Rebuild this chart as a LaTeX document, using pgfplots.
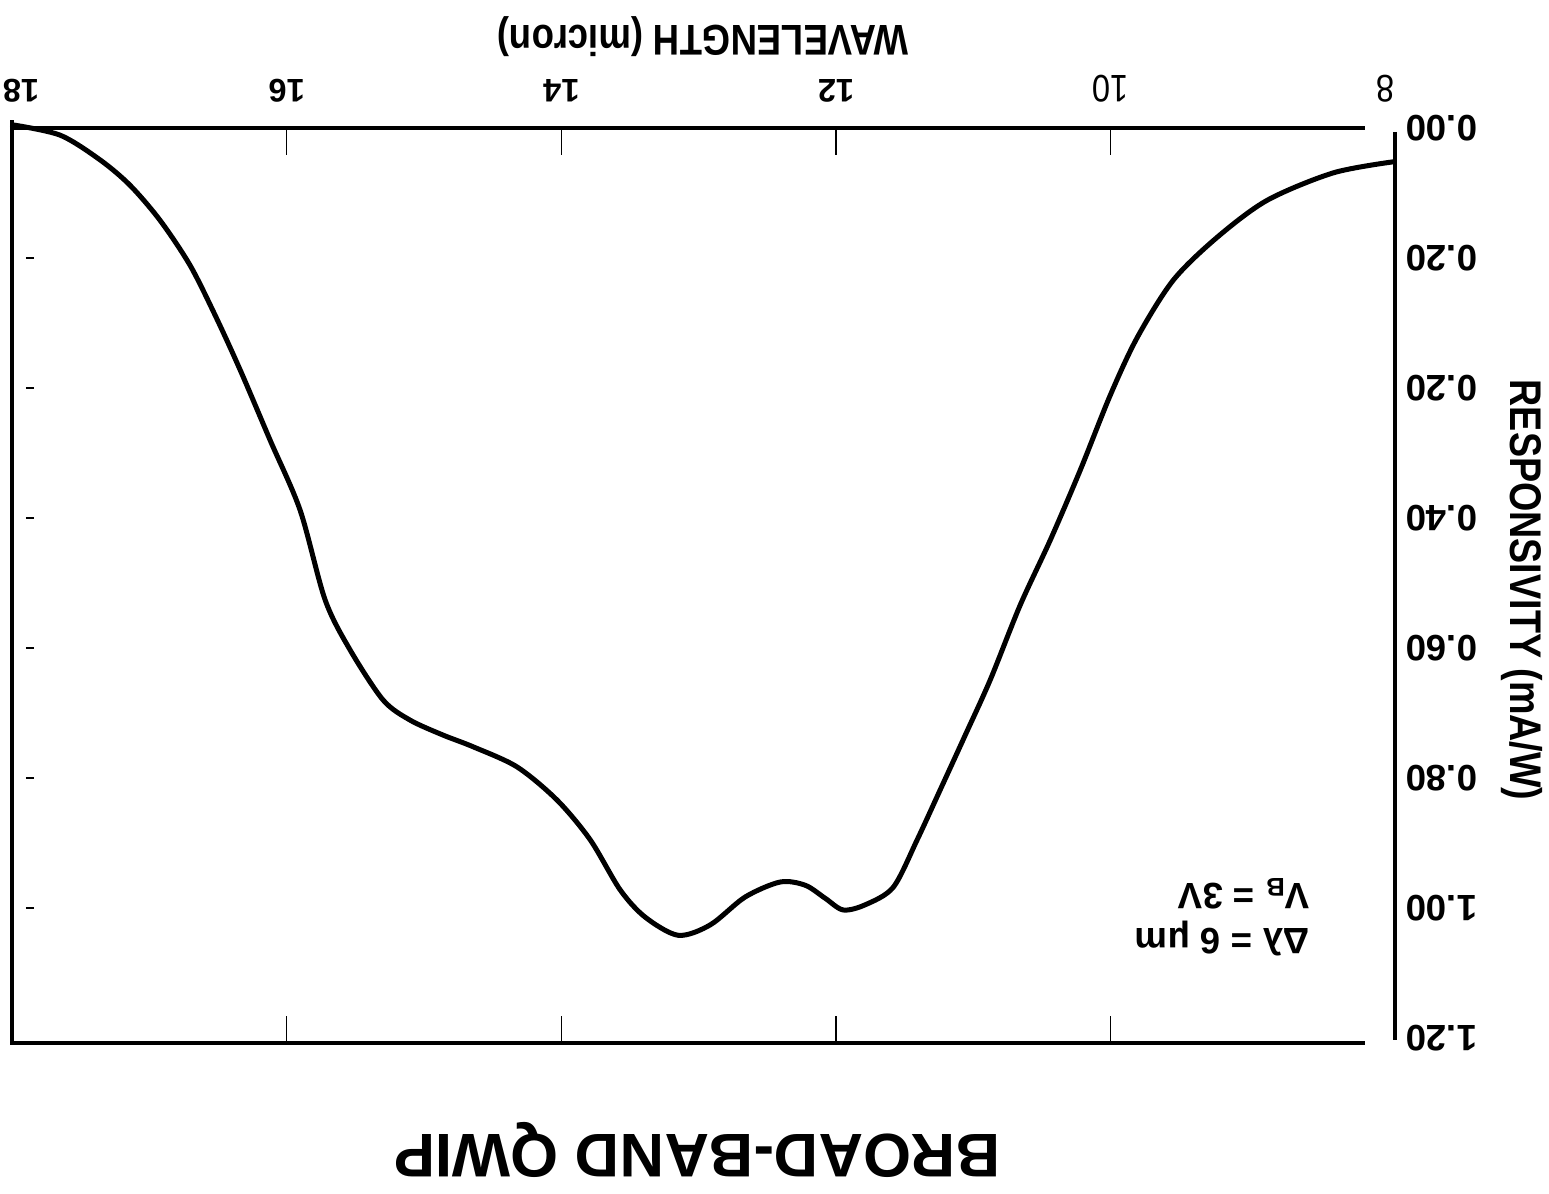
\documentclass[border=0pt]{standalone}
\usepackage{fontspec}
\setmainfont{Liberation Sans}
\newfontfamily\condfont[FakeStretch=0.85]{Liberation Sans}
\usepackage{pgfplots}
\pgfplotsset{compat=1.18}
\begin{document}
\begin{tikzpicture}
\useasboundingbox (-3.6pt,-45pt) rectangle (461.1pt,312.9pt);
\begin{axis}[
  at={(0pt,0pt)}, anchor=south west,
  scale only axis, width=414.9pt, height=274.5pt,
  x dir=reverse, y dir=reverse,
  xmin=7.93, xmax=18, ymin=0, ymax=1.4077,
  clip=false,
  axis line style={draw=none},
  tick align=inside,
  xtick pos=both,
  xticklabel pos=upper,
  yticklabel pos=upper,
  xtick={10,12,14,16},
  xticklabels={{\condfont\mdseries\fontsize{11.5}{13}\selectfont 10},12,14,16},
  extra x ticks={8,17.934},
  extra x tick labels={{\condfont\mdseries\fontsize{11.5}{13}\selectfont 8},18},
  extra x tick style={major tick length=0pt},
  x tick style={line width=0.45pt, black},
  major tick length=8.1pt,
  ytick={0,0.2,0.4,0.6,0.8,1.0,1.2,1.4},
  yticklabels={0.00,0.20,0.20,0.40,0.60,0.80,1.00,1.20},
  y tick style={draw=none},
  xticklabel style={rotate=180, anchor=north, inner sep=0pt, inner ysep=7.5pt, font=\bfseries\fontsize{9.8}{12}\selectfont},
  yticklabel style={rotate=180, anchor=east, inner sep=0pt, inner xsep=3pt, font=\bfseries\fontsize{11}{13}\selectfont},
  xlabel={WAVELENGTH (micron)},
  xlabel style={at={(axis description cs:0.4996,1.0995)}, anchor=center, rotate=180, font=\condfont\bfseries\fontsize{12.9}{15}\selectfont},
  ylabel={RESPONSIVITY (mA/W)},
  ylabel style={at={(axis description cs:1.0918,0.495)}, anchor=center, rotate=180, font=\condfont\bfseries\fontsize{13.3}{15}\selectfont},
  title={BROAD-BAND QWIP},
  title style={at={(axis description cs:0.4953,-0.139)}, anchor=center, rotate=180, font=\bfseries\fontsize{18.5}{20}\selectfont},
]
\addplot[black, line width=1.5pt, smooth, tension=0.5] coordinates {
(18.0,-0.005) (17.650,0.011) (17.359,0.049) (17.141,0.088) (16.922,0.142)
(16.704,0.211) (16.521,0.288) (16.339,0.372) (16.121,0.480) (15.902,0.588)
(15.720,0.726) (15.538,0.803) (15.298,0.880) (15.101,0.911) (14.861,0.934)
(14.642,0.952) (14.322,0.983) (14.031,1.034) (13.790,1.095) (13.572,1.172)
(13.390,1.214) (13.149,1.242) (12.916,1.226) (12.661,1.183) (12.406,1.160)
(12.224,1.165) (12.079,1.185) (11.948,1.203) (11.787,1.195) (11.583,1.168)
(11.409,1.095) (11.241,1.018) (11.059,0.934) (10.877,0.849) (10.659,0.734)
(10.440,0.634) (10.221,0.526) (10.003,0.411) (9.806,0.322) (9.544,0.234)
(9.224,0.168) (8.859,0.111) (8.379,0.069) (7.942,0.052)
};
\draw[line width=1.0pt] (axis cs:18,-0.012) -- (axis cs:18,1.411);
\draw[line width=1.1pt] (axis cs:18.015,0) -- (axis cs:8.146,0);
\draw[line width=1.1pt] (axis cs:18,1.4077) -- (axis cs:8.146,1.4077);
\draw[line width=1.1pt] (axis cs:7.93,0.006) -- (axis cs:7.93,1.403);
\draw[line width=0.8pt] (axis cs:17.898,0.2) -- (axis cs:17.840,0.2);
\draw[line width=0.8pt] (axis cs:17.898,0.4) -- (axis cs:17.840,0.4);
\draw[line width=0.8pt] (axis cs:17.898,0.6) -- (axis cs:17.840,0.6);
\draw[line width=0.8pt] (axis cs:17.898,0.8) -- (axis cs:17.840,0.8);
\draw[line width=0.8pt] (axis cs:17.898,1.0) -- (axis cs:17.840,1.0);
\draw[line width=0.8pt] (axis cs:17.898,1.2) -- (axis cs:17.840,1.2);
\node[rotate=180, align=left, anchor=center, inner sep=0pt, font=\bfseries\fontsize{11}{13.5}\selectfont] at (axis cs:9.187,1.214) {Δλ = 6 μm\\V\textsubscript{B} = 3V};
\end{axis}
\end{tikzpicture}
\end{document}
